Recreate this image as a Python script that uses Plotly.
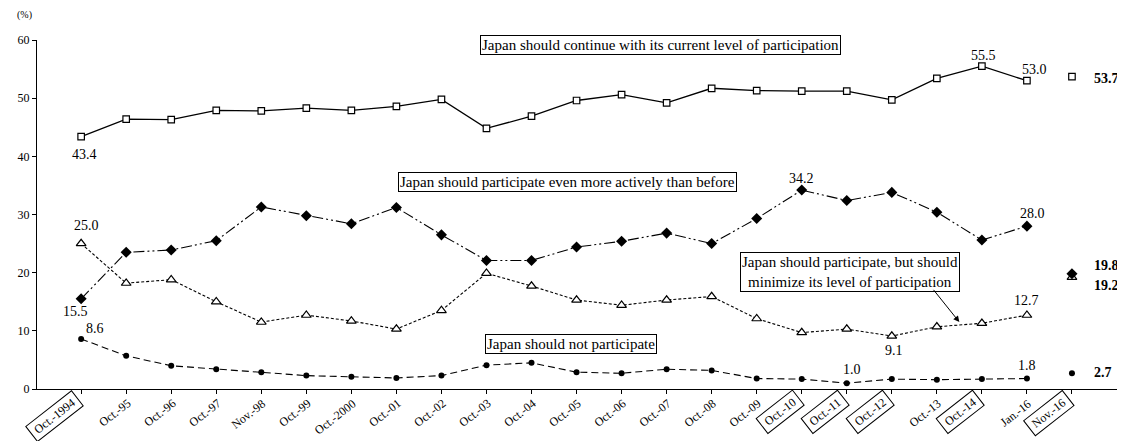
import plotly.graph_objects as go

categories = ["Oct.-1994", "Oct.-95", "Oct.-96", "Oct.-97", "Nov.-98", "Oct.-99",
              "Oct.-2000", "Oct.-01", "Oct.-02", "Oct.-03", "Oct.-04", "Oct.-05",
              "Oct.-06", "Oct.-07", "Oct.-08", "Oct.-09", "Oct.-10", "Oct.-11",
              "Oct.-12", "Oct.-13", "Oct.-14", "Jan.-16", "Nov.-16"]
boxed_categories = ["Oct.-1994", "Oct.-10", "Oct.-11", "Oct.-12", "Oct.-14", "Nov.-16"]

current_level = [43.4, 46.4, 46.3, 47.9, 47.8, 48.3, 47.9, 48.6, 49.8, 44.8, 46.9, 49.6,
                 50.6, 49.2, 51.7, 51.3, 51.2, 51.2, 49.7, 53.4, 55.5, 53.0, 53.7]
more_active = [15.5, 23.5, 23.9, 25.5, 31.3, 29.8, 28.4, 31.2, 26.5, 22.1, 22.1, 24.4,
               25.4, 26.8, 25.0, 29.3, 34.2, 32.4, 33.8, 30.4, 25.6, 28.0, 19.8]
minimize = [25.0, 18.2, 18.8, 15.0, 11.5, 12.7, 11.7, 10.3, 13.5, 19.9, 17.7, 15.3,
            14.4, 15.3, 15.9, 12.1, 9.7, 10.3, 9.1, 10.7, 11.3, 12.7, 19.2]
not_participate = [8.6, 5.7, 4.0, 3.4, 2.9, 2.3, 2.1, 1.9, 2.3, 4.1, 4.5, 2.9,
                   2.7, 3.4, 3.2, 1.8, 1.7, 1.0, 1.7, 1.6, 1.7, 1.8, 2.7]

series_names = ["Japan should continue with its current level of participation",
                "Japan should participate even more actively than before",
                "Japan should participate, but should<br>minimize its level of participation",
                "Japan should not participate"]

y_ticks = [0, 10, 20, 30, 40, 50, 60]

SERIF = "Liberation Serif, Times New Roman, serif"

series = [
    (current_level, dict(color="black", width=1.3), dict(symbol="square", size=6.5, color="white", line=dict(color="black", width=1.2))),
    (minimize, dict(color="black", width=1.1, dash="3px,2px"), dict(symbol="triangle-up", size=8.5, color="white", line=dict(color="black", width=1.2))),
    (more_active, dict(color="black", width=1.1, dash="11px,3px,2px,3px,2px,3px"), dict(symbol="diamond", size=8.5, color="black")),
    (not_participate, dict(color="black", width=1.1, dash="7px,4px"), dict(symbol="circle", size=6, color="black")),
]

fig = go.Figure()
for vals, line, marker in series:
    fig.add_trace(go.Scatter(x=categories[:-1], y=vals[:-1], mode="lines+markers",
                             line=line, marker=marker, showlegend=False, cliponaxis=False))
    fig.add_trace(go.Scatter(x=categories[-1:], y=vals[-1:], mode="markers",
                             marker=marker, showlegend=False, cliponaxis=False))

annotations = []

# data labels: (series values, index, xshift, yshift, anchor, bold)
labels = [
    (current_level, 0, 3, -18, "center", False),
    (current_level, 20, 2, 11, "center", False),
    (current_level, 21, 8, 11, "center", False),
    (current_level, 22, 20, -2, "left", True),
    (minimize, 0, 5, 18, "center", False),
    (more_active, 0, -6, -13, "center", False),
    (not_participate, 0, 14, 10, "center", False),
    (more_active, 16, 0, 12, "center", False),
    (more_active, 21, 6, 13, "center", False),
    (more_active, 22, 20, 8, "left", True),
    (minimize, 22, 20, -8, "left", True),
    (minimize, 21, 0, 15, "center", False),
    (minimize, 18, 2, -14, "center", False),
    (not_participate, 17, 5, 14, "center", False),
    (not_participate, 21, 0, 13, "center", False),
    (not_participate, 22, 20, 1, "left", True),
]
for vals, i, dx, dy, anc, bold in labels:
    txt = f"{vals[i]:.1f}"
    if bold:
        txt = f"<b>{txt}</b>"
    annotations.append(dict(x=categories[i], y=vals[i], xref="x", yref="y", text=txt,
                            showarrow=False, xshift=dx, yshift=dy, xanchor=anc, yanchor="middle",
                            font=dict(family=SERIF, size=14, color="black")))

# boxed series names (paper positions)
box_pos = [(0.577, 0.986), (0.491, 0.593), (0.753, 0.335), (0.494, 0.128)]
for name, (px, py) in zip(series_names, box_pos):
    annotations.append(dict(x=px, y=py, xref="paper", yref="paper", text=name,
                            showarrow=False, bordercolor="black", borderwidth=1, borderpad=1,
                            bgcolor="white", align="center", xanchor="center", yanchor="middle",
                            font=dict(family=SERIF, size=15, color="black")))

# arrow from minimize box to line
annotations.append(dict(x=19.5, y=11.5, xref="x", yref="y", ax=18.9, ay=17.3,
                        axref="x", ayref="y", text="", showarrow=True,
                        arrowhead=2, arrowsize=1.2, arrowwidth=1, arrowcolor="black"))

# x category labels (rotated, some boxed)
for c in categories:
    boxed = c in boxed_categories
    if boxed:
        annotations.append(dict(x=c, y=-0.003, xref="x", yref="paper",
                                text="\u2009" + c + "\u2009",
                                showarrow=False, textangle=-38, xanchor="right", yanchor="top",
                                xshift=3, bordercolor="black", borderwidth=1, borderpad=2,
                                font=dict(family=SERIF, size=12, color="black")))
    else:
        annotations.append(dict(x=c, y=-0.022, xref="x", yref="paper", text=c,
                                showarrow=False, textangle=-38, xanchor="right", yanchor="top",
                                xshift=7, borderwidth=0, borderpad=0,
                                font=dict(family=SERIF, size=12, color="black")))

annotations.append(dict(x=-0.012, y=1.072, xref="paper", yref="paper", text="(%)",
                        showarrow=False, xanchor="center", yanchor="middle",
                        font=dict(family=SERIF, size=10, color="black")))

# page body has an 8px margin: size figure so the plot lands where the reference has it
fig.update_layout(
    width=1117, height=433,
    margin=dict(l=29, r=8, t=32, b=52, autoexpand=False),
    plot_bgcolor="white", paper_bgcolor="white",
    annotations=annotations,
    font=dict(family=SERIF, color="black"),
)
fig.update_xaxes(type="category", range=[-0.98, 23], showgrid=False, showline=True,
                 linecolor="black", linewidth=1.3, ticks="outside", ticklen=4,
                 tickcolor="black", showticklabels=False, zeroline=False, automargin=False)
fig.update_yaxes(range=[0, 60], tickvals=y_ticks, showgrid=False, showline=True,
                 linecolor="black", linewidth=1.3, ticks="outside", ticklen=4,
                 tickcolor="black", zeroline=False, automargin=False,
                 tickfont=dict(family=SERIF, size=12, color="black"))

fig.write_html("out.html")
